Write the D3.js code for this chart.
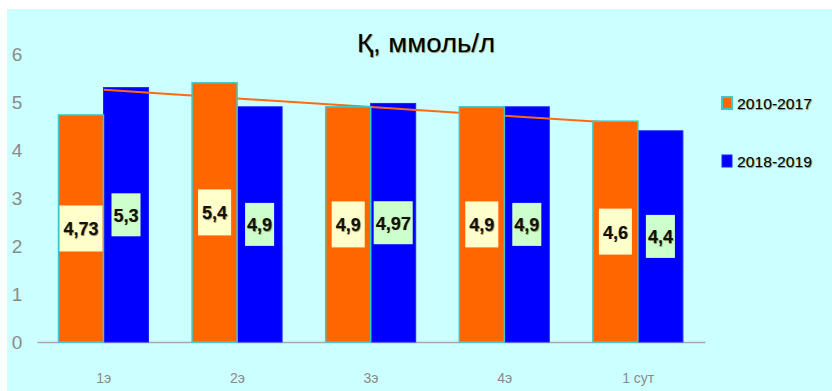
<!DOCTYPE html>
<html>
<head>
<meta charset="utf-8">
<script src="https://cdn.jsdelivr.net/npm/d3@7"></script>
<style>
  html, body { margin: 0; padding: 0; background: #ffffff; }
  svg { display: block; }
  text { font-family: "Liberation Sans", Arial, sans-serif; }
</style>
</head>
<body>
<svg id="chart" width="832" height="391"></svg>
<script>
// Data
const categories = ["1э", "2э", "3э", "4э", "1 сут"];
const seriesNames = ["2010-2017", "2018-2019"];
const values2010 = [4.73, 5.4, 4.9, 4.9, 4.6];
const values2018 = [5.3, 4.9, 4.97, 4.9, 4.4];
const labels2010 = ["4,73", "5,4", "4,9", "4,9", "4,6"];
const labels2018 = ["5,3", "4,9", "4,97", "4,9", "4,4"];
const yTicks = [0, 1, 2, 3, 4, 5, 6];
const titleText = "Қ, ммоль/л";

const barColors = ["#ff6600", "#0000ff"];
const barStrokes = ["#3cc8c8", "#2020ff"];
const boxColors = ["#ffffcc", "#ccffcc"];

const svg = d3.select("#chart");

// Chart area background
svg.append("rect")
  .attr("x", 7).attr("y", 9)
  .attr("width", 825).attr("height", 382)
  .attr("fill", "#ccffff");

const plot = { left: 37, right: 705, top: 54, bottom: 342 };

const x0 = d3.scaleBand()
  .domain(categories)
  .range([plot.left, plot.right])
  .paddingInner(0).paddingOuter(0);

const x1 = d3.scaleBand()
  .domain(seriesNames)
  .range([21.5, 111.5]);

const y = d3.scaleLinear()
  .domain([0, 6])
  .range([plot.bottom, plot.top]);

// Y tick labels
svg.append("g").selectAll("text")
  .data(yTicks)
  .join("text")
  .attr("x", 17)
  .attr("y", d => y(d))
  .attr("text-anchor", "middle")
  .attr("dominant-baseline", "central")
  .attr("font-size", 19)
  .attr("fill", "#8a8a8a")
  .text(d => d);

// Category axis
const xAxis = d3.axisBottom(x0).tickSize(0).tickPadding(0);
const gx = svg.append("g")
  .attr("transform", `translate(0,${plot.bottom})`)
  .call(xAxis);
gx.select(".domain").attr("stroke", "#a8a8a8").attr("stroke-width", 1.5);
gx.selectAll(".tick text")
  .attr("dy", 0)
  .attr("y", 36)
  .attr("dominant-baseline", "central")
  .attr("font-size", 14)
  .attr("font-family", "\"Liberation Sans\", Arial, sans-serif")
  .attr("fill", "#8a8a8a");

const rows = categories.map((c, i) => ({
  cat: c,
  vals: [values2010[i], values2018[i]],
  labels: [labels2010[i], labels2018[i]]
}));

function barRect(sel, si) {
  sel.attr("x", d => x0(d.cat) + x1(seriesNames[si]))
    .attr("y", d => y(d.vals[si]))
    .attr("width", x1.bandwidth())
    .attr("height", d => y(0) - y(d.vals[si]))
    .attr("fill", barColors[si])
    .attr("stroke", barStrokes[si])
    .attr("stroke-width", si === 0 ? 1.5 : 1);
}

// 2018-2019 bars
svg.append("g").selectAll("rect")
  .data(rows).join("rect")
  .call(barRect, 1);

// Linear trend of the 2018-2019 series
const n = values2018.length;
const xs = d3.range(1, n + 1);
const mx = d3.mean(xs), my = d3.mean(values2018);
const slope = d3.sum(xs.map((v, i) => (v - mx) * (values2018[i] - my))) /
              d3.sum(xs.map(v => (v - mx) * (v - mx)));
const intercept = my - slope * mx;
const trend = categories.map((c, i) => ({ cat: c, v: intercept + slope * (i + 1) }));

svg.append("path")
  .datum(trend)
  .attr("fill", "none")
  .attr("stroke", "#ff6a10")
  .attr("stroke-width", 2)
  .attr("d", d3.line()
    .x(d => x0(d.cat) + x0.bandwidth() / 2)
    .y(d => y(d.v)));

// 2010-2017 bars
svg.append("g").selectAll("rect")
  .data(rows).join("rect")
  .call(barRect, 0);

// Value labels in boxes at bar mid-height
const boxH = [46, 43];
const boxPad = [8, 4];
[0, 1].forEach(si => {
  const g = svg.append("g").selectAll("g")
    .data(rows).join("g")
    .attr("transform", d => {
      const cx = x0(d.cat) + x1(seriesNames[si]) + x1.bandwidth() / 2;
      const cy = y(d.vals[si] / 2);
      return `translate(${cx},${cy})`;
    });
  const rects = g.append("rect")
    .attr("fill", boxColors[si]);
  const texts = g.append("text")
    .attr("text-anchor", "middle")
    .attr("dominant-baseline", "central")
    .attr("y", 1)
    .attr("font-size", 18)
    .attr("font-weight", "bold")
    .attr("fill", "#111111")
    .style("text-shadow", "0.6px 0.6px 0.8px rgba(80,60,0,0.6)")
    .text(d => d.labels[si]);
  texts.each(function(d) {
    const w = Math.min(this.getComputedTextLength() + boxPad[si], x1.bandwidth());
    d3.select(this.parentNode).select("rect")
      .attr("x", -w / 2).attr("y", -boxH[si] / 2)
      .attr("width", w).attr("height", boxH[si]);
  });
});

// Title
svg.append("text")
  .attr("x", 426)
  .attr("y", 52)
  .attr("text-anchor", "middle")
  .attr("font-size", 26)
  .attr("fill", "#000000")
  .attr("textLength", 138)
  .attr("lengthAdjust", "spacingAndGlyphs")
  .style("text-shadow", "0.6px 0.6px 0.8px rgba(90,70,0,0.6)")
  .text(titleText);

// Legend
const legend = svg.append("g").selectAll("g")
  .data(seriesNames).join("g")
  .attr("transform", (d, i) => `translate(722,${[103, 161][i]})`);
legend.append("rect")
  .attr("x", 0).attr("y", -6)
  .attr("width", 10).attr("height", 12)
  .attr("fill", (d, i) => barColors[i])
  .attr("stroke", (d, i) => barStrokes[i])
  .attr("stroke-width", (d, i) => i === 0 ? 2 : 1);
legend.append("text")
  .attr("x", 15)
  .attr("y", 1)
  .attr("dominant-baseline", "central")
  .attr("font-size", 14)
  .attr("textLength", 75)
  .attr("lengthAdjust", "spacingAndGlyphs")
  .attr("fill", "#000000")
  .style("text-shadow", "0.6px 0.6px 0.8px rgba(90,70,0,0.6)")
  .text(d => d);
</script>
</body>
</html>
